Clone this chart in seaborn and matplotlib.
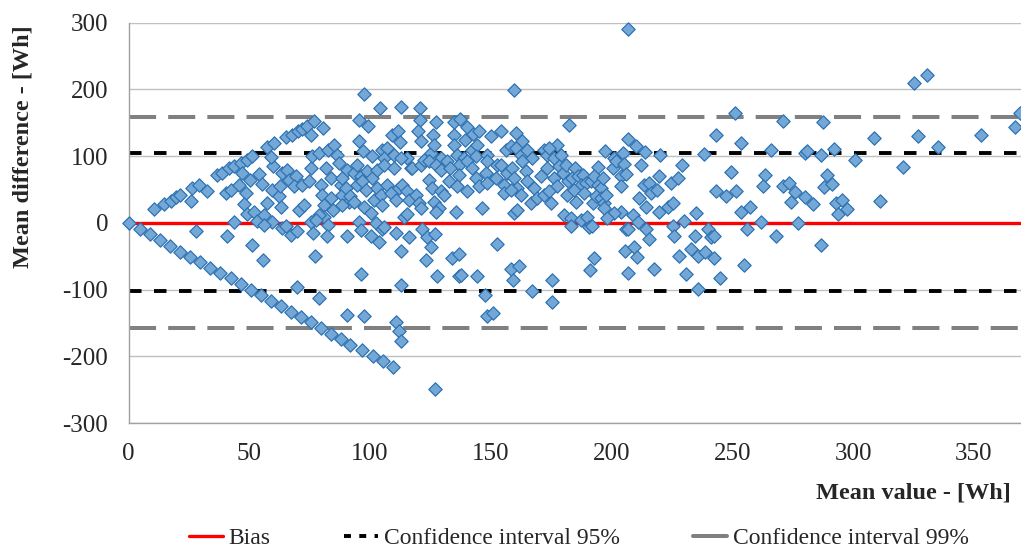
import matplotlib
matplotlib.use("Agg")
import matplotlib.pyplot as plt
import seaborn as sns
import pandas as pd
from matplotlib.lines import Line2D

# ---- data ----
mean_value = [
    # 0-92, upper
    0, 10.5, 14.6, 17.4, 19.5, 21.3, 25.7, 26.4, 29.1, 32.6, 36.5, 38.8, 41.6, 43.6, 46.4, 49, 51.2,
    57.5, 60.2, 65, 67.8, 70, 72, 74, 76.8, 80.7, 75.7, 40.2, 42.3, 45.7, 47, 48.5, 47.8, 49.2, 51.9,
    50.5, 54, 55.4, 53.3, 56, 57.5, 59.5, 60, 59, 62.3, 62.7, 63.7, 63, 65.7, 66.4, 69.2, 68.5, 70.6,
    72, 72.7, 74.7, 75.5, 76.1, 78.9, 79.6, 80.3, 81, 81.7, 82.4, 83.8, 83.8, 84.8, 85, 86.2, 87.1,
    87.8, 88.5, 90.6, 91.3, 81, 78.9, 75.5, 82.4, 59.5, 43.6, 56,
    # 0-92, lower
    4.7, 8.8, 13, 17.1, 21.3, 25.4, 29.6, 33.7, 37.8, 42.3, 46.4, 50.8, 55, 59.1, 63.3, 67.4, 71.5,
    75.7, 79.8, 84, 88.1, 91.7, 27.8, 40.9, 51.2, 55.8, 63.7, 65, 67.1, 69.9, 69.6, 76.5, 77.1,
    77.5, 78.9, 82.3, 90.6, 90.6,
    # 88-183, upper
    97.5, 104.1, 113, 120.7, 95.4, 99.1, 120.7, 127.2, 134.8, 137.2, 140.3, 159.6, 109.2, 111.6,
    119.8, 126.2, 134.8, 139.2, 142.8, 145.1, 150, 154.1, 160.3, 163.1, 177.6, 95.4, 97.2, 100.9,
    105.1, 107.1, 105.7, 109.9, 112.4, 121, 115.4, 116.8, 125.1, 126.5, 129.2, 134.8, 136.1, 138.9,
    142.4, 144.4, 143.7, 136.8, 148.6, 152.7, 156.2, 158.2, 160.3, 162.4, 165.1, 167.2, 172.1,
    173.4, 174.1, 176.2, 179, 178.3, 93.3, 94.7, 96.1, 98.8, 100.9, 103, 105.7, 109.9, 112.7, 117.5,
    121, 122.3, 124.4, 127.2, 129.2, 131.7, 133.1, 132.7, 136.8, 140.3, 142.4, 143.7, 147.9, 148.6,
    152, 154.1, 155.5, 156.9, 158.9, 159.6, 161, 163.1, 164.5, 165.1, 167.9, 170.7, 173.4, 176.2,
    177.6, 179.7, 181, 88.5, 89.9, 91.9, 94.7, 96.8, 98.2, 101.6, 103, 104.4, 107.1, 108.5, 110.6,
    112, 113.3, 115.4, 116.1, 118.9, 120.3, 124.4, 125.8, 126.5, 128.5, 129.2, 130.6, 135.4, 136.1,
    140.3, 145.1, 146.5, 148.6, 155.5, 158.2, 159.6, 161, 162.4, 166.5, 169.3, 172.1, 174.1, 174.8,
    180.3, 181.7, 182.4, 88.5, 93.3, 97.5, 100.2, 105.1, 114, 115.4, 121, 127.2, 95.4, 102.3,
    # 88-183, lower
    96.4, 100.2, 103.7, 105.1, 105.8, 110.6, 113, 116.1, 121.6, 123, 123.7, 125.1, 126.8, 127.9,
    134.1, 136.8, 136.8, 137.8, 144.4, 147.5, 148.6, 151.1, 152.7, 158.2, 159.3, 161.7, 167.2,
    175.5, 175.5, 96.4, 113, 97.7, 110.6, 112, 112.7, 96.8, 101.2, 105.5, 109.6, 126.8,
    # 180-275, upper
    206.6, 206.6, 210.1, 213.8, 197.2, 200.8, 204.6, 220.2, 238.1, 243.2, 251.1, 253.6, 266, 270.8,
    184.8, 194.2, 200.4, 201.8, 205, 203.9, 205.9, 212.1, 229, 249.4, 263.5, 181.8, 183.8, 185.9,
    188, 187.3, 189.4, 191.4, 192.8, 194.2, 195.6, 196.3, 184.5, 185.2, 188.7, 192.1, 193.5, 195.6,
    197, 197.6, 197, 204.1, 213.5, 215.6, 216.3, 218.8, 219.7, 224.6, 227.3, 243.2, 247.4, 251.5,
    253.6, 257.5, 262.6, 270.8, 273.6, 274.3, 211.5, 214.2, 219.7, 223.2, 225.3, 234.9, 208.7,
    203.9, 201.1, 198.3, 183.1, 187.3, 190, 230.1, 261.9, 211.1,
    # 180-275, lower
    183.1, 190.7, 191.7, 205.9, 206.9, 214.2, 215.6, 225.3, 226, 234.5, 239.8, 241.2, 242.5, 256.1,
    268.1, 192.8, 191.2, 205.5, 209.1, 210.5, 206.9, 217.7, 228, 232.9, 235.6, 238.7, 242.5, 230.8,
    245, 235.9, 255,
    # 275-370
    325.1, 330.6, 287.4, 308.5, 326.7, 353, 367, 369, 280, 281.1, 286.9, 291.9, 300.8, 335, 320.5,
    289.2, 288.1, 291.1, 275.9, 280, 283.2, 292.9, 295.2, 297.4, 293.6, 311.3, 277, 286.7,
]

mean_difference = [
    # 0-92, upper
    0, 20.5, 28, 33, 38, 42, 33, 52, 57, 47, 71, 74.5, 82, 84.5, 89.5, 94.5, 99.5,
    113, 119.5, 128, 132, 137, 141, 144.5, 152, 142, 132, 44.5, 49.5, 57, 74.5, 44.5, 28, 13, 17,
    64.5, 73, 58, 3, 12, 29.5, 49.5, 84.5, 98, 39.5, 54.5, 74.5, 24.5, 79.5, 64.5, 69.5, 54.5, 19.5,
    57, 27, 62, 82, 99.5, 104.5, 57, 42, 27, 82, 109.5, 67, 37, 19.5, 116, 102, 89.5,
    57, 42, 79.5, 32, 9.5, 12, 2, -3, 2, 2, -3,
    # 0-92, lower
    -9, -16, -25, -34, -43, -51, -59, -67, -75, -83, -92, -100, -108, -117, -125, -134, -141,
    -149, -158, -166, -174, -183, -12.75, -20, -32.75, -56, -7.75, -5, -17.75, -12.75, -96.25, -15.25, -49.25,
    3.75, -112.75, -20.25, -20.25, -137.75,
    # 88-183, upper
    193, 172, 173, 172, 154, 145, 154.5, 151, 151, 156, 143, 199.5, 132, 137,
    137, 132, 132, 124.5, 133, 137, 129.5, 137, 134.5, 122, 117, 122, 107, 99.5,
    109.5, 112, 97, 102, 121, 123, 97, 82, 104.5, 116, 97, 116, 102, 97,
    109.5, 117, 99.5, 87, 102, 87, 109.5, 114.5, 112, 102, 109.5, 97, 109.5,
    102, 112, 97, 102, 84.5, 74.5, 87, 69.5, 77, 67, 79.5, 87, 82, 97, 82,
    87, 94.5, 92, 87, 79.5, 92, 82, 62, 72, 92, 82, 67, 74.5, 92,
    67, 87, 57, 74.5, 82, 67, 52, 92, 77, 62, 52, 69.5, 82, 67,
    54.5, 74.5, 87, 67, 52, 39.5, 57, 62, 49.5, 34.5, 52, 42, 57, 44.5, 34.5,
    52, 57, 47, 34.5, 42, 29.5, 64.5, 52, 32, 22, 47, 42, 17, 54.5,
    47, 54.5, 22, 59.5, 44.5, 49.5, 14.5, 19.5, 42, 29.5, 37, 42, 47, 29.5,
    12, 42, 147, 27, 32, 24.5, 14.5, 27, 9.5, 13, 22, 17, 2, -0.5,
    # 88-183, lower
    -10.25, -19.25, -29.25, -9.25, -6.25, -15.25, -42.75, -21.25, -9.25, -56.25, -21.25, -36.25, -16.25, -80.25,
    -52.75, -46.25, -79.25, -77.75, -80.25, -107.75, -139.25, -135.25, -31.25, -69.25, -85.25, -64.25, -102.75,
    -85.25, -119.25, -76.25, -92.75, -139.25, -149.25, -162.75, -177.75, -191.25, -199.25, -207.75, -216.25, -249.25,
    # 180-275, upper
    291, 126, 114.5, 106, 108, 97, 104.5, 102, 103, 132, 164.5, 119.5, 109.5, 153,
    82, 83, 82, 92, 88, 69.5, 73, 86, 87, 76, 71, 62, 67, 69.5,
    72, 57, 59.5, 62, 69.5, 57, 52, 67, 49.5, 32, 44.5, 29.5, 39.5, 37,
    29.5, 42, 22, 54.5, 56, 59.5, 44.5, 49.5, 69.5, 59.5, 67, 48, 39.5, 47,
    17, 24.5, 54.5, 54.5, 59.5, 32, 37, 24.5, 17, 24.5, 29.5, 14.5, 12,
    17, 14.5, 7, 7, 4.5, 9.5, 3, 2, 2,
    # 180-275, lower
    -5.25, -6.25, -4.25, -9.25, -9.25, -9.25, -24.25, -4.25, -19.25, -19.25, -9.25, -21.25, -20.25, -9.25,
    -19.25, -52.75, -71.25, -42.75, -36.25, -51.25, -75.25, -69.25, -49.25, -39.25, -50.25, -44.25, -52.75, -76.25,
    -82.75, -99.25, -62.75,
    # 275-370
    209.5, 221, 151, 127, 129.5, 132, 143, 164.5, 104.5, 107, 101, 111, 94.5, 113, 83,
    71, 53.5, 58.5, 46, 38, 28, 29.5, 34.5, 21, 13.5, 33, -0.5, -32.75,
]

bias = 0.0
ci95_upper, ci95_lower = 104.0, -102.0
ci99_upper, ci99_lower = 159.0, -157.0

x_ticks = [0, 50, 100, 150, 200, 250, 300, 350]
y_ticks = [-300, -200, -100, 0, 100, 200, 300]
legend_labels = ["Bias", "Confidence interval 95%", "Confidence interval 99%"]

df = pd.DataFrame({"mean": mean_value, "diff": mean_difference})

# ---- style ----
sns.set_style("white")
plt.rcParams["font.family"] = ["Liberation Serif", "DejaVu Serif"]
plt.rcParams["lines.scale_dashes"] = False
plt.rcParams["axes.unicode_minus"] = False

fig = plt.figure(figsize=(10.21, 5.52), dpi=100)
ax = fig.add_axes([128.5 / 1021, 1 - 423 / 552, 1 - 128.5 / 1021, (423 - 22.7) / 552])

for yv in [-300, -200, -100, 100, 200, 300]:
    ax.axhline(yv, color="#c0c0c0", lw=1.0, zorder=0)

ax.axhline(ci95_upper, color="black", lw=2.8, dashes=(9, 9), zorder=1)
ax.axhline(ci95_lower, color="black", lw=2.8, dashes=(9, 9), zorder=1)
ax.axhline(ci99_upper, color="#808080", lw=2.9, dashes=(19.5, 8.7), zorder=1)
ax.axhline(ci99_lower, color="#808080", lw=2.9, dashes=(19.5, 8.7), zorder=1)
ax.axhline(bias, color="#ff0000", lw=2.4, zorder=1)

sns.scatterplot(data=df, x="mean", y="diff", ax=ax, marker="D", s=46,
                color="#73a8d6", edgecolor="#2f72b3", linewidth=0.9,
                legend=False, zorder=3, clip_on=False)

ax.set_xlim(0, 369.5)
ax.set_ylim(-300, 300)
ax.set_xticks(x_ticks)
ax.set_yticks(y_ticks)
ax.tick_params(axis="both", labelsize=18, length=5.5, width=1, color="#a0a0a0",
               direction="out")
ax.tick_params(axis="y", pad=9)
ax.tick_params(axis="x", pad=9)
for side in ["top", "right"]:
    ax.spines[side].set_visible(False)
for side in ["left", "bottom"]:
    ax.spines[side].set_color("#a0a0a0")
    ax.spines[side].set_linewidth(1.0)
ax.set_xlabel("")
ax.set_ylabel("")

fig.text(23 / 1021, 1 - 147 / 552, "Mean difference - [Wh]", rotation=90,
         ha="center", va="center", fontsize=17.5, fontweight="bold")
fig.text(1011 / 1021, 1 - 493 / 552, "Mean value - [Wh]", ha="right", va="center",
         fontsize=17.5, fontweight="bold")

handles = [
    Line2D([], [], color="#ff0000", lw=2.4),
    Line2D([], [], color="black", lw=2.8, dashes=(5, 6)),
    Line2D([], [], color="#808080", lw=2.9),
]
fig.legend(handles, legend_labels, loc="center", bbox_to_anchor=(0.567, 1 - 538 / 552),
           ncol=3, frameon=False, fontsize=17, handlelength=1.45, handletextpad=0.25,
           columnspacing=3.1)

fig.savefig("out.png", dpi=100)
